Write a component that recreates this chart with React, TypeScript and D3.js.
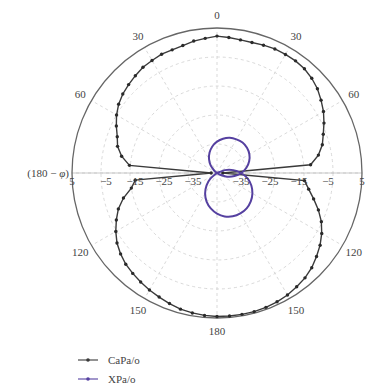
import React from "react";
import * as d3 from "d3";

// angles in degrees, clockwise from the top (0 = up)
const caAngles = [
  0, 5, 10, 15, 20, 25, 30, 35, 40, 45, 50, 55, 60, 65, 70, 75, 80, 85, 90, 95,
  100, 105, 110, 115, 120, 125, 130, 135, 140, 145, 150, 155, 160, 165, 170,
  175, 180, 185, 190, 195, 200, 205, 210, 215, 220, 225, 230, 235, 240, 245,
  250, 255, 260, 265, 270, 275, 280, 285, 290, 295, 300, 305, 310, 315, 320,
  325, 330, 335, 340, 345, 350, 355,
];
// CaPa/o gain in dB
const caValues = [
  2.2, 1.9, 1.6, 1.6, 1.9, 2.2, 2.2, 2.2, 1.9, 1.2, 0.2, -1.2, -2.6, -4.3, -6.0,
  -7.4, -9.5, -12.6, -43, -14.7, -12.9, -10.5, -7.8, -5.3, -3.3, -1.6, -0.2,
  1.2, 2.2, 2.9, 3.6, 4.0, 4.3, 4.5, 4.5, 4.5, 4.5, 4.3, 4.0, 3.6, 2.9, 2.2,
  1.6, 0.9, 0.2, -0.5, -1.6, -2.9, -4.7, -6.7, -8.8, -11.6, -15.0, -16.7, -43,
  -14.7, -11.6, -9.5, -8.4, -6.7, -5.0, -3.6, -2.6, -1.9, -1.2, -0.5, -0.2,
  0.2, 0.2, 0.5, 1.2, 1.6,
];

// XPa/o traced along the figure-eight
const xpAngles = [
  -56, -50, -40, -30, -20, -10, 0, 10, 20, 30, 40, 50, 60, 70, 80, 90, 100,
  110, 120, 124, 60, 70, 80, 90, 100, 110, 120, 130, 140, 150, 160, 170, 180,
  190, 200, 210, 220, 230, 240,
];
const xpValues = [
  -45, -43.8, -41.6, -39.5, -37.5, -35.7, -34.2, -33.0, -32.1, -31.6, -31.3,
  -31.5, -32.1, -33.2, -34.7, -36.6, -38.9, -41.3, -44, -45, -45, -42.1, -39.3,
  -36.7, -34.3, -32.4, -30.9, -29.8, -29.1, -28.9, -29.1, -29.8, -31.0, -32.6,
  -34.5, -36.8, -39.4, -42.1, -45,
];

const radialTicks = [-35, -25, -15, -5, 5];
const angleLabels = ["0", "30", "60", "90", "120", "150", "180"];
const seriesNames = ["CaPa/o", "XPa/o"];

const W = 369;
const H = 386;
const cx = 217;
const cy = 173;
const R = 145;
const font = "'Liberation Serif', 'DejaVu Serif', serif";

export default function App() {
  const r = d3.scaleLinear().domain([-45, 5]).range([0, R]);
  const toRad = (deg: number) => (deg * Math.PI) / 180;

  const caData = caAngles.map((a, i) => ({ a: toRad(a), v: caValues[i] }));
  const xpData = xpAngles.map((a, i) => ({ a: toRad(a), v: xpValues[i] }));

  const radial = d3
    .lineRadial<{ a: number; v: number }>()
    .angle((d) => d.a)
    .radius((d) => r(d.v));

  const caPath = radial.curve(d3.curveLinearClosed)(caData) || "";
  const xpPath = radial.curve(d3.curveCardinal.tension(0.3))(xpData) || "";

  const spokes = d3.range(0, 360, 30);
  const gridCircles = radialTicks.slice(0, -1);

  return (
    <svg
      width={W}
      height={H}
      style={{ position: "absolute", left: 0, top: 0, background: "#fff" }}
      fontFamily={font}
    >
      <g transform={`translate(${cx},${cy})`}>
        {gridCircles.map((t) => (
          <circle
            key={t}
            r={r(t)}
            fill="none"
            stroke="#cfcfcf"
            strokeWidth={0.8}
            strokeDasharray="3,3"
          />
        ))}
        {spokes.map((s) => {
          const a = toRad(s);
          return (
            <line
              key={s}
              x1={0}
              y1={0}
              x2={R * Math.sin(a)}
              y2={-R * Math.cos(a)}
              stroke="#cfcfcf"
              strokeWidth={0.8}
              strokeDasharray="3,3"
            />
          );
        })}
        <line x1={-R} x2={R} y1={0} y2={0} stroke="#bbb" strokeWidth={0.8} />
        <circle r={R} fill="none" stroke="#666" strokeWidth={1.3} />

        <path d={caPath} fill="none" stroke="#3a3a3a" strokeWidth={1.4} />
        {caData.map((d, i) => (
          <circle
            key={i}
            cx={r(d.v) * Math.sin(d.a)}
            cy={-r(d.v) * Math.cos(d.a)}
            r={1.7}
            fill="#2a2a2a"
          />
        ))}
        <path d={xpPath} fill="none" stroke="#5540a0" strokeWidth={2} />

        {/* radial tick labels along the horizontal */}
        {radialTicks.map((t) =>
          [-1, 1].map((side) => (
            <text
              key={`${t}${side}`}
              x={side * (t === 5 ? r(t) : r(t) - 5)}
              y={12}
              fontSize={11}
              textAnchor="middle"
              fill="#444"
            >
              {t < 0 ? `\u2212${-t}` : t}
            </text>
          ))
        )}

        {/* angle labels */}
        {angleLabels.map((lab) => {
          const deg = +lab;
          if (deg === 90) return null;
          const sides = deg === 0 || deg === 180 ? [1] : [-1, 1];
          return sides.map((side) => {
            const a = toRad(deg * side);
            const lr = 158;
            return (
              <text
                key={`${lab}${side}`}
                x={lr * Math.sin(a)}
                y={-lr * Math.cos(a)}
                dy="0.35em"
                fontSize={11}
                textAnchor="middle"
                fill="#444"
              >
                {lab}
              </text>
            );
          });
        })}
        <text x={-R - 3} y={0} dy="0.35em" fontSize={11} textAnchor="end" fill="#444">
          (180 − <tspan fontStyle="italic">φ</tspan>)
        </text>
      </g>

      {/* legend */}
      {seriesNames.map((name, i) => {
        const y = 360 + i * 19;
        const color = i === 0 ? "#3a3a3a" : "#5540a0";
        return (
          <g key={name}>
            <line x1={78} x2={98} y1={y} y2={y} stroke={color} strokeWidth={1.1} />
            <circle cx={88} cy={y} r={1.8} fill={color} />
            <text x={108} y={y} dy="0.35em" fontSize={11} fill="#444">
              {name}
            </text>
          </g>
        );
      })}
    </svg>
  );
}
